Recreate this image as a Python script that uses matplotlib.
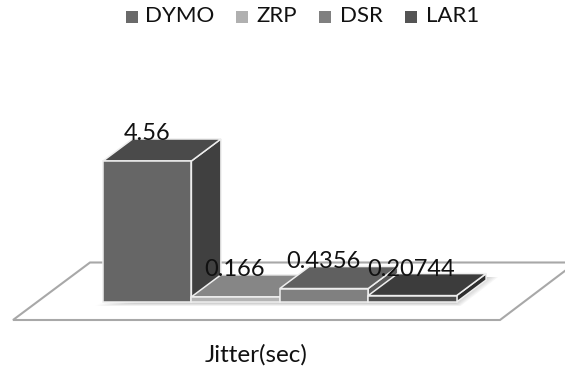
import matplotlib
matplotlib.use('Agg')
import matplotlib.pyplot as plt
from matplotlib.patches import Polygon, Rectangle

series = ['DYMO', 'ZRP', 'DSR', 'LAR1']
values = [4.56, 0.166, 0.4356, 0.20744]
value_labels = ['4.56', '0.166', '0.4356', '0.20744']
xlabel = 'Jitter(sec)'

front_colors = ['#666666', '#b4b4b4', '#808080', '#505050']
top_colors = ['#4a4a4a', '#868686', '#606060', '#3c3c3c']
side_colors = ['#404040', '#8c8c8c', '#5a5a5a', '#2e2e2e']
legend_colors = ['#6a6a6a', '#b0b0b0', '#808080', '#545454']
legend_box_x = [126, 236, 319, 405]
legend_text_x = [145, 256, 340, 426]
label_pos = [(147, 133), (235, 270), (323, 261), (411, 269)]

# px per unit of value, bars sit on baseline_y
scale = 141 / 4.56
baseline_y = 302
bar_x0 = 103
bar_w = 88.4
dx, dy = 29.5, -22

plt.rcParams['font.family'] = ['Lato', 'DejaVu Sans']

fig = plt.figure(figsize=(5.65, 3.71), dpi=100)
ax = fig.add_axes([0, 0, 1, 1])
ax.set_xlim(0, 565)
ax.set_ylim(371, 0)
ax.axis('off')

# floor
ax.add_patch(Polygon([(13, 320), (500, 320), (576, 262.5), (90, 262.5)],
                     closed=True, fc='white', ec='#a8a8a8', lw=1.5, zorder=1))

# soft shadow on the floor
x_end = bar_x0 + bar_w * len(values)
for i in range(6):
    ax.add_patch(Polygon([(bar_x0 - 8 + i, baseline_y + 4 - i * 0.5), (x_end + 4 - i, baseline_y + 4 - i * 0.5),
                          (x_end + dx + 12 - i * 2, baseline_y - 25), (x_end + dx, baseline_y - 25)],
                         closed=True, fc='#808080', ec='none', alpha=0.07, zorder=2))

# left to right, each bar hides the lower part of its neighbour's side
for i in range(len(values)):
    h = values[i] * scale
    x0 = bar_x0 + i * bar_w
    x1 = x0 + bar_w
    y0 = baseline_y
    y1 = baseline_y - h
    z = 3 + i * 0.1
    ax.add_patch(Polygon([(x1, y0), (x1 + dx, y0 + dy), (x1 + dx, y1 + dy), (x1, y1)],
                         closed=True, fc=side_colors[i], ec='#eeeeee', lw=1.1, zorder=z))
    ax.add_patch(Polygon([(x0, y1), (x1, y1), (x1 + dx, y1 + dy), (x0 + dx, y1 + dy)],
                         closed=True, fc=top_colors[i], ec='#eeeeee', lw=1.1, zorder=z))
    ax.add_patch(Rectangle((x0, y1), bar_w, h, fc=front_colors[i], ec='#eeeeee', lw=1.1, zorder=z))

for lab, (x, y) in zip(value_labels, label_pos):
    ax.text(x, y, lab, fontsize=17, color='#111111', ha='center', va='center', zorder=6)

# legend
for name, c, bx, tx in zip(series, legend_colors, legend_box_x, legend_text_x):
    ax.add_patch(Rectangle((bx, 11), 12, 12, fc=c, ec='none', zorder=6))
    ax.text(tx, 16, name, fontsize=16, color='#111111', ha='left', va='center', zorder=6)

ax.text(256, 355, xlabel, fontsize=17.5, color='#111111', ha='center', va='center', zorder=6)

fig.savefig('out.png', dpi=100, facecolor='white')
